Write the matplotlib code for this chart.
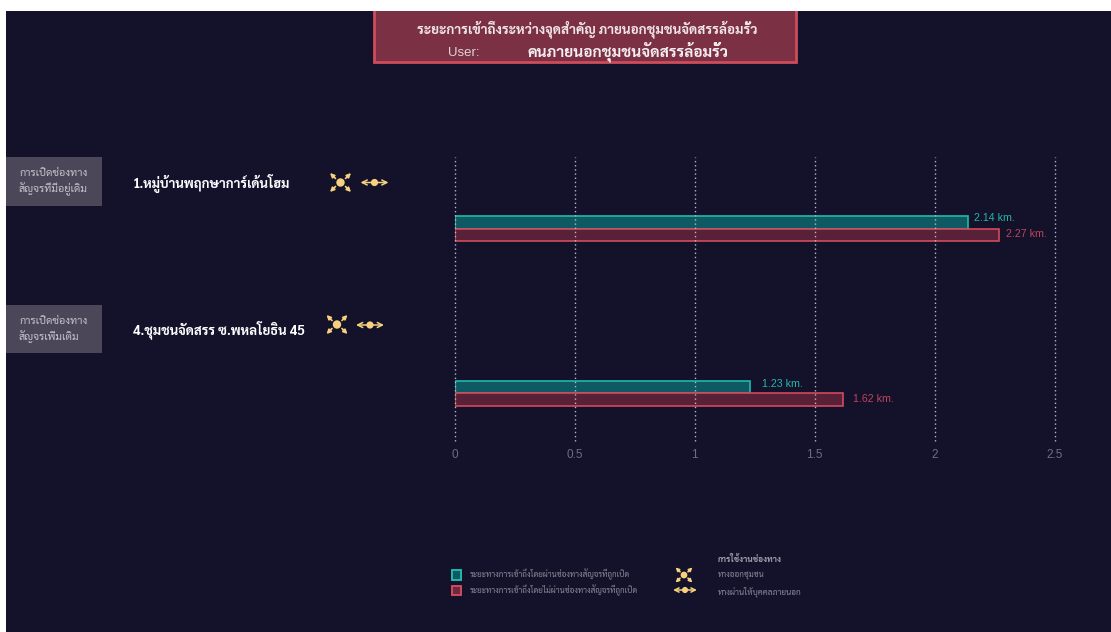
import matplotlib
matplotlib.use('Agg')
import matplotlib.pyplot as plt
from matplotlib.patches import Rectangle, Circle
import numpy as np

# data
villages = ['1.หมู่บ้านพฤกษาการ์เด้นโฮม', '4.ชุมชนจัดสรร ซ.พหลโยธิน 45']
opening_types = ['การเปิดช่องทาง\nสัญจรที่มีอยู่เดิม', 'การเปิดช่องทาง\nสัญจรเพิ่มเติม']
with_opening = [2.14, 1.23]
without_opening = [2.27, 1.62]
xticks = [0, 0.5, 1, 1.5, 2, 2.5]
xtick_labels = ['0', '0.5', '1', '1.5', '2', '2.5']
title_line = 'ระยะการเข้าถึงระหว่างจุดสำคัญ ภายนอกชุมชนจัดสรรล้อมรั้ว'
user_name = 'คนภายนอกชุมชนจัดสรรล้อมรั้ว'
legend_bars = ['ระยะทางการเข้าถึงโดยผ่านช่องทางสัญจรที่ถูกเปิด',
               'ระยะทางการเข้าถึงโดยไม่ผ่านช่องทางสัญจรที่ถูกเปิด']
legend_head = 'การใช้งานช่องทาง'
legend_use = ['ทางออกชุมชน', 'ทางผ่านให้บุคคลภายนอก']

BG = '#14112b'
TEAL = '#22b8a9'
TEAL_FILL = '#0f5a62'
RED = '#d04a5c'
RED_FILL = '#582138'
GOLD = '#f6d27e'
THAI = ['Sarabun', 'Noto Sans Thai', 'Liberation Sans', 'DejaVu Sans']
LATIN = ['Liberation Sans', 'DejaVu Sans']

W, H = 1111, 632
fig = plt.figure(figsize=(W / 100, H / 100), dpi=100, facecolor='white')


def px_axes(x0, y0, x1, y1):
    return [x0 / W, 1 - y1 / H, (x1 - x0) / W, (y1 - y0) / H]


# dark panel and everything not on a scale, in picture pixels
deco = fig.add_axes([0, 0, 1, 1], zorder=1)
deco.set_xlim(0, W)
deco.set_ylim(H, 0)
deco.axis('off')
deco.add_patch(Rectangle((6, 11), W, H, fc=BG, ec='none'))

# bars
ax = fig.add_axes(px_axes(454.5, 157, 1054.5, 441), zorder=2)
ax.patch.set_alpha(0)
y = np.arange(2)
h = 0.075
ax.barh(y - h / 2, with_opening, h, color=TEAL_FILL, edgecolor=TEAL, linewidth=1.2)
ax.barh(y + h / 2, without_opening, h, color=RED_FILL, edgecolor=RED, linewidth=1.2)
ax.set_xlim(0, 2.5)
ax.set_ylim(1.29, -0.4356)
ax.set_xticks(xticks, xtick_labels, color='#6f6c80', fontsize=8.5, family=LATIN)
ax.set_yticks([])
ax.tick_params(axis='x', length=0, pad=6)
ax.grid(axis='x', color='#b5b5c4', linestyle=(0, (1, 2)), linewidth=1.0)
ax.set_axisbelow(False)
for line in ax.get_xgridlines():
    line.set_clip_on(False)
for s in ax.spines.values():
    s.set_visible(False)

# value labels, offsets as in the picture
teal_off = [6, 12]
teal_up = [3, 2.2]
red_off = [7, 10]
for i in range(2):
    ax.annotate(f'{with_opening[i]:.2f} km.', (with_opening[i], y[i] - h / 2), xytext=(teal_off[i] * 0.72, teal_up[i]),
                textcoords='offset points', color=TEAL, fontsize=7.7, va='center', family=LATIN)
    ax.annotate(f'{without_opening[i]:.2f} km.', (without_opening[i], y[i] + h / 2), xytext=(red_off[i] * 0.72, 0.5),
                textcoords='offset points', color='#bf4459', fontsize=7.7, va='center', family=LATIN)

# title box
deco.add_patch(Rectangle((373.5, 8), 422, 54, fc='#7c3044', ec='#cf4c5b', lw=2))
deco.add_patch(Rectangle((0, 0), W, 11, fc='white', ec='none', zorder=3))
deco.text(587, 29.5, title_line, color='#f0e6e8', fontsize=9.7, ha='center', va='center', family=THAI, weight='bold')
deco.text(448, 53, 'User:', color='#e0d4d8', fontsize=9.5, va='center', family=LATIN)
deco.text(528, 52, user_name, color='#f5eef0', fontsize=11.1, va='center', family=THAI, weight='bold')

# left side boxes and village names
box_y = [157, 304.5]
name_y = [183, 330]
for i in range(2):
    deco.add_patch(Rectangle((6, box_y[i]), 96, 48.5, fc='#4b4759', ec='none'))
    deco.text(19, box_y[i] + 24.5, opening_types[i], color='#c4c2cc', fontsize=7.8, va='center',
              family=THAI, linespacing=1.35)
    deco.text(133, name_y[i], villages[i], color='white', fontsize=9.55, va='center', family=THAI, weight='bold')


def exit_icon(cx, cy, sx=1.0):
    deco.add_patch(Circle((cx, cy), 4.2 * sx, fc=GOLD, ec='none'))
    for dx, dy in [(-1, -1), (1, -1), (-1, 1), (1, 1)]:
        deco.annotate('', xy=(cx + dx * 10.5 * sx, cy + dy * 9.5 * sx), xytext=(cx + dx * 5 * sx, cy + dy * 4 * sx),
                      arrowprops=dict(arrowstyle='-|>', color=GOLD, lw=1.2, mutation_scale=6 * sx, shrinkA=0, shrinkB=0))


def through_icon(cx, cy, sx=1.0):
    deco.add_patch(Circle((cx, cy), 3.6 * sx, fc=GOLD, ec='none'))
    for d in (-1, 1):
        deco.annotate('', xy=(cx + d * 14 * sx, cy), xytext=(cx, cy),
                      arrowprops=dict(arrowstyle='->', color=GOLD, lw=1.1, mutation_scale=9 * sx, shrinkA=0, shrinkB=0))


exit_icon(340.5, 182.5)
through_icon(374.5, 182.5)
exit_icon(337, 324.5)
through_icon(370, 325)

# legend
deco.add_patch(Rectangle((451.5, 570), 9, 9.5, fc=TEAL_FILL, ec=TEAL, lw=1.4))
deco.add_patch(Rectangle((451.5, 585.5), 9, 9.5, fc='#6c2a40', ec=RED, lw=1.4))
deco.text(470, 574.5, legend_bars[0], color='#8f8d9c', fontsize=5.75, va='center', family=THAI)
deco.text(470, 590.5, legend_bars[1], color='#8f8d9c', fontsize=5.75, va='center', family=THAI)
deco.text(718, 559, legend_head, color='#a5a3b0', fontsize=6, va='center', family=THAI, weight='bold')
deco.text(718, 576, legend_use[0], color='#8f8d9c', fontsize=5.8, va='center', family=THAI)
deco.text(718, 592, legend_use[1], color='#8f8d9c', fontsize=5.9, va='center', family=THAI)
exit_icon(684, 575, 0.8)
through_icon(685, 590, 0.85)

fig.savefig('out.png', dpi=100, facecolor='white')
